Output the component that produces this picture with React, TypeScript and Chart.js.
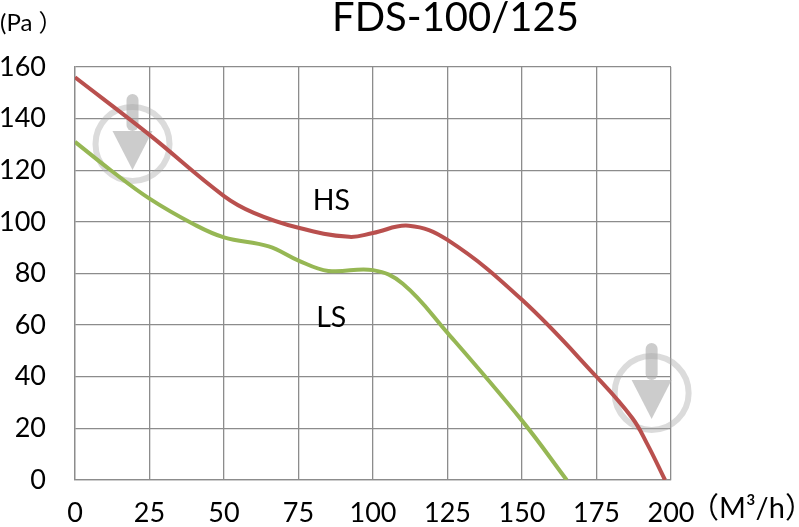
import React, { useEffect, useRef } from "react";
import { Chart, registerables } from "chart.js";

Chart.register(...registerables);

const hsFlow = [0, 25, 50, 60, 75, 92, 100, 112, 125, 150, 175, 187, 192, 198];
const hsPressure = [156, 133.7, 110, 103.5, 97.7, 94.2, 95.7, 98.5, 93, 69.8, 40, 24, 14, 0];
const lsFlow = [0, 12, 25, 40, 50, 65, 75, 85, 100, 110, 125, 150, 165];
const lsPressure = [131, 120, 109, 99, 94, 90.5, 85, 81, 81.3, 76, 57, 23, 0];

const titleText = "FDS-100/125";
const yUnit = "(Pa ）";
const xUnit = "（M³/h）";
const hsLabel = "HS";
const lsLabel = "LS";
const xTicks = [0, 25, 50, 75, 100, 125, 150, 175, 200];
const yTicks = [0, 20, 40, 60, 80, 100, 120, 140, 160];
// watermark anchor points in data units
const marks = [{ x: 19.3, y: 130.2 }, { x: 193.5, y: 33.7 }];

const FONT = "Lato, Carlito, sans-serif";
const CJK = `Lato, "Noto Sans CJK SC", sans-serif`;

const overlay = {
  id: "overlay",
  beforeDatasetsDraw(chart: any) {
    const { ctx, scales } = chart;
    ctx.save();
    for (const m of marks) {
      const cx = scales.x.getPixelForValue(m.x);
      const cy = scales.y.getPixelForValue(m.y);
      ctx.strokeStyle = "rgba(170,170,170,0.42)";
      ctx.lineWidth = 6;
      ctx.beginPath();
      ctx.arc(cx, cy, 37, 0, Math.PI * 2);
      ctx.stroke();
      ctx.fillStyle = "rgba(170,170,170,0.6)";
      ctx.beginPath();
      ctx.moveTo(cx - 20, cy - 13);
      ctx.lineTo(cx + 20, cy - 13);
      ctx.lineTo(cx, cy + 26);
      ctx.closePath();
      ctx.fill();
      ctx.beginPath();
      ctx.roundRect(cx - 6, cy - 50, 12, 37, 6);
      ctx.fill();
    }
    ctx.restore();
  },
  afterDraw(chart: any) {
    const { ctx, scales } = chart;
    ctx.save();
    ctx.fillStyle = "#000";
    ctx.textBaseline = "middle";
    ctx.textAlign = "center";
    ctx.font = `40px ${FONT}`;
    ctx.fillText(titleText, 455.5, 18);
    ctx.font = `28.5px ${FONT}`;
    ctx.fillText(hsLabel, scales.x.getPixelForValue(86), scales.y.getPixelForValue(108));
    ctx.fillText(lsLabel, scales.x.getPixelForValue(86), scales.y.getPixelForValue(63));
    ctx.textAlign = "left";
    ctx.font = `24px ${CJK}`;
    ctx.fillText(yUnit, 0, 23);
    ctx.font = `29px ${CJK}`;
    ctx.fillText(xUnit, 690, 509);
    ctx.restore();
  },
};

export default function App() {
  const ref = useRef<HTMLCanvasElement>(null);
  useEffect(() => {
    const chart = new Chart(ref.current!, {
      type: "scatter",
      data: {
        datasets: [
          {
            label: "HS",
            data: hsFlow.map((x, i) => ({ x, y: hsPressure[i] })),
            showLine: true,
            borderColor: "#b9504e",
            borderWidth: 4,
            pointRadius: 0,
            tension: 0.4,
          },
          {
            label: "LS",
            data: lsFlow.map((x, i) => ({ x, y: lsPressure[i] })),
            showLine: true,
            borderColor: "#96b754",
            borderWidth: 4,
            pointRadius: 0,
            tension: 0.4,
          },
        ],
      },
      options: {
        animation: false,
        responsive: false,
        layout: { padding: { left: 0, top: 67, right: 128, bottom: 0 } },
        plugins: { legend: { display: false }, title: { display: false }, tooltip: { enabled: false } },
        scales: {
          x: {
            type: "linear",
            min: 0,
            max: 200,
            afterFit: (s: any) => { s.height = 47; },
            afterBuildTicks: (s: any) => { s.ticks = xTicks.map((value) => ({ value })); },
            grid: { color: "#8c8c8c", lineWidth: 1.3, drawTicks: false },
            border: { color: "#8c8c8c", width: 1.3 },
            ticks: { color: "#000", font: { family: FONT, size: 27 }, padding: 17, maxRotation: 0, autoSkip: false },
          },
          y: {
            type: "linear",
            min: 0,
            max: 160,
            afterFit: (s: any) => { s.width = 75; },
            afterBuildTicks: (s: any) => { s.ticks = yTicks.map((value) => ({ value })); },
            grid: { color: "#8c8c8c", lineWidth: 1.3, drawTicks: false },
            border: { color: "#8c8c8c", width: 1.3 },
            ticks: { color: "#000", font: { family: FONT, size: 27 }, padding: 29, autoSkip: false },
          },
        },
      },
      plugins: [overlay],
    } as any);
    return () => chart.destroy();
  }, []);
  return (
    <div style={{ position: "fixed", left: 0, top: 0, width: 799, height: 527, background: "#fff" }}>
      <canvas ref={ref} width={799} height={527} style={{ display: "block" }} />
    </div>
  );
}
